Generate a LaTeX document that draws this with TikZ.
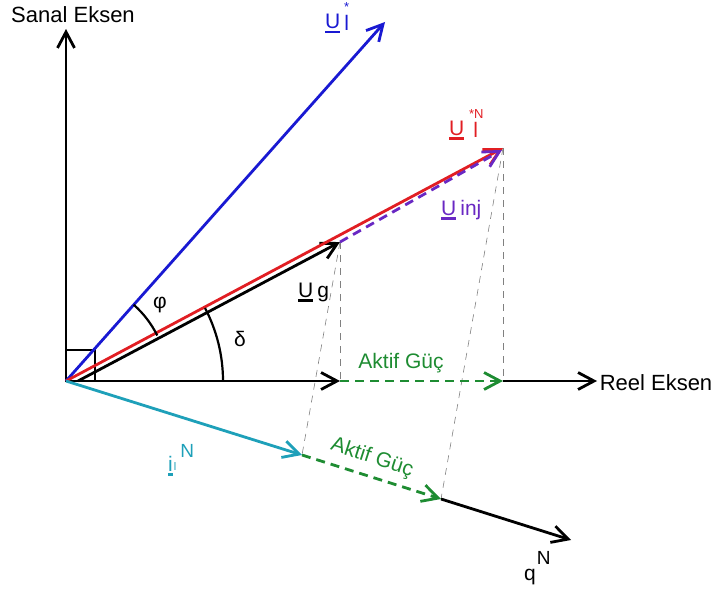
\documentclass[tikz,border=0pt]{standalone}
\usepackage{fontspec}
\setmainfont{Liberation Sans}
\usetikzlibrary{arrows.meta,calc}
\definecolor{cblue}{RGB}{25,25,210}
\definecolor{cred}{RGB}{225,30,35}
\definecolor{cpurple}{RGB}{105,40,195}
\definecolor{cgreen}{RGB}{30,140,50}
\definecolor{ccyan}{RGB}{30,160,185}
\newcommand\myul[1]{\setbox0\hbox{#1}\rlap{\rule[-4.5pt]{\wd0}{2.8pt}}\box0}
\tikzset{
  vec/.style={line width=2.8pt,-{Straight Barb[length=16pt,width=17pt,line width=2.8pt]}},
  gdash/.style={vec,cgreen,dash pattern=on 9pt off 6pt},
  proj/.style={gray,line width=0.6pt,dash pattern=on 7pt off 6pt},
  lbl/.style={inner sep=0pt,font=\fontsize{21}{25}\selectfont},
  axl/.style={inner sep=0pt,font=\fontsize{22}{26}\selectfont},
}
\begin{document}
\begin{tikzpicture}[x=1pt,y=-1pt]
\useasboundingbox (0,0) rectangle (717,594);
% points
\coordinate (O) at (66,381);
\coordinate (V) at (66,29);
\coordinate (H) at (597,381);
\coordinate (B) at (385,22);
\coordinate (R) at (503,148);
\coordinate (Us) at (78,381);
\coordinate (U) at (340,242);
\coordinate (A1) at (340,381);
\coordinate (A2) at (503,381);
\coordinate (C) at (302,455);
\coordinate (Q1) at (441,499);
\coordinate (Q2) at (571,540);
% projection lines
\draw[proj] (U) -- (A1);
\draw[proj] (U) -- (C);
\draw[proj] (R) -- (A2);
\draw[proj] (R) -- (Q1);
% right angle
\draw[line width=2.4pt] (66,350) rectangle (95,381);
% axes
\draw[vec] (O) -- (V);
\draw[vec] (O) -- (A1);
\draw[gdash] (A1) -- (A2);
\draw[vec] (A2) -- (H);
% vectors
\draw[vec,cblue] (O) -- (B);
\draw[vec] (Us) -- (U);
\draw[vec,cred] (O) -- (R);
\draw[vec,cpurple,dash pattern=on 9pt off 6pt] (U) -- (502,150);
\draw[vec,ccyan] (O) -- (C);
\draw[gdash] (C) -- (Q1);
\draw[vec] (Q1) -- (Q2);
% angle arcs
\draw[line width=2.2pt] ($(O)+(-48.4:102)$) arc[start angle=-48.4,end angle=-26.5,radius=102];
\draw[line width=2.2pt] ($(O)+(-27.7:157)$) arc[start angle=-27.7,end angle=0,radius=157];
% labels
\node[axl] (ls) at (73,15) {Sanal Eksen};
\node[axl] (lr) at (656,383) {Reel Eksen};
\node[lbl,cblue,anchor=base west] (lb) at (325,29) {\myul{U}\hspace{4pt}\raisebox{-2pt}{l}\kern-5pt\raisebox{17pt}{\fontsize{13}{14}\selectfont *}};
\node[lbl,cred,anchor=base west] (lrd) at (449,135) {\myul{U}\hspace{9pt}\raisebox{-2pt}{l}\kern-9pt\raisebox{17pt}{\fontsize{13}{14}\selectfont *N}};
\node[lbl,cpurple,anchor=base west] (li) at (441,215) {\myul{U}\hspace{4pt}inj};
\node[lbl,anchor=base west] (lg) at (298,297) {\myul{U}\hspace{4pt}g};
\node[lbl] (lphi) at (160,305) {φ};
\node[lbl] (ldel) at (240,339) {δ};
\node[lbl,cgreen] (la1) at (401,363) {Aktif Güç};
\node[lbl,cgreen,rotate=-18] (la2) at (372,458) {Aktif Güç};
\node[lbl,ccyan,anchor=base west] (lc) at (168,471) {\myul{i}\hspace{1pt}\raisebox{1pt}{\fontsize{11}{12}\selectfont l}\hspace{4pt}\raisebox{14pt}{\fontsize{19}{20}\selectfont N}};
\node[lbl,anchor=base west] (lq) at (524,580) {q\hspace{1pt}\raisebox{16pt}{\fontsize{19}{20}\selectfont N}};
\end{tikzpicture}
\end{document}
